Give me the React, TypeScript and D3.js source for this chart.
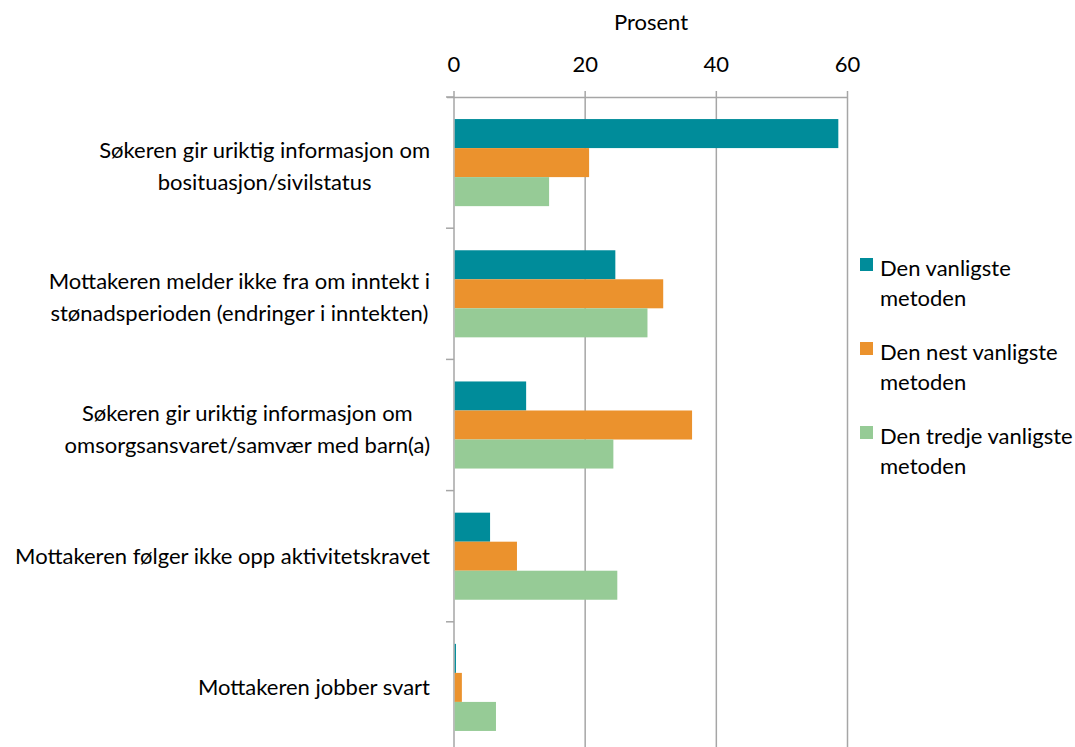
import React, { useEffect, useRef } from "react";
import * as d3 from "d3";

const categories: string[][] = [
  ["Søkeren gir uriktig informasjon om", "bosituasjon/sivilstatus"],
  ["Mottakeren melder ikke fra om inntekt i", "stønadsperioden (endringer i inntekten)"],
  ["Søkeren gir uriktig informasjon om", "omsorgsansvaret/samvær med barn(a)"],
  ["Mottakeren følger ikke opp aktivitetskravet"],
  ["Mottakeren jobber svart"],
];
const seriesNames: string[][] = [
  ["Den vanligste", "metoden"],
  ["Den nest vanligste", "metoden"],
  ["Den tredje vanligste", "metoden"],
];
const first = [58.6, 24.6, 11.0, 5.5, 0.3];
const second = [20.6, 31.9, 36.3, 9.6, 1.2];
const third = [14.5, 29.5, 24.3, 24.9, 6.4];
const ticks = [0, 20, 40, 60];
const colors = ["#008C9A", "#EB922D", "#96CB96"];

const W = 1075, H = 747;
const FONT = "Lato, 'Open Sans', sans-serif";
const FS = 22;

export default function App() {
  const ref = useRef<SVGSVGElement>(null);
  useEffect(() => {
    document.body.style.margin = "0";
    const svg = d3.select(ref.current);
    svg.selectAll("*").remove();
    const series = [first, second, third];
    const x = d3.scaleLinear().domain([0, 60]).range([454, 847.5]);
    const y = d3.scaleBand<number>().domain(d3.range(categories.length)).range([97, 753]).paddingInner(0).paddingOuter(0);
    const inner = d3.scaleBand<number>().domain([0, 1, 2]).range([0, y.bandwidth()]).paddingOuter(0.76).paddingInner(0);
    const grey = "#A6A6A6";

    svg.append("g").selectAll("line").data(ticks.slice(1)).join("line")
      .attr("x1", d => x(d)).attr("x2", d => x(d)).attr("y1", 91).attr("y2", H)
      .attr("stroke", grey).attr("stroke-width", 1.5);
    svg.append("line").attr("x1", 447).attr("x2", x(60)).attr("y1", 97.5).attr("y2", 97.5)
      .attr("stroke", grey).attr("stroke-width", 1.5);
    svg.append("line").attr("x1", x(0)).attr("x2", x(0)).attr("y1", 91).attr("y2", H)
      .attr("stroke", grey).attr("stroke-width", 1.5);
    svg.append("g").selectAll("line").data(d3.range(categories.length)).join("line")
      .attr("x1", 446).attr("x2", x(0)).attr("y1", d => y(d)!).attr("y2", d => y(d)!)
      .attr("stroke", grey).attr("stroke-width", 1.5);

    series.forEach((s, si) => {
      svg.append("g").selectAll("rect").data(s).join("rect")
        .attr("x", x(0) + 0.75)
        .attr("y", (_d, i) => y(i)! + inner(si)!)
        .attr("width", d => Math.max(0, x(d) - x(0) - 0.75))
        .attr("height", inner.bandwidth())
        .attr("fill", colors[si]);
    });

    svg.append("g").selectAll("text").data(ticks).join("text")
      .attr("x", d => x(d)).attr("y", 72).attr("text-anchor", "middle")
      .attr("font-family", FONT).attr("font-size", FS).attr("fill", "#000")
      .text(d => String(d));
    svg.append("text").attr("x", 651).attr("y", 30).attr("text-anchor", "middle")
      .attr("font-family", FONT).attr("font-size", FS).attr("fill", "#000").text("Prosent");

    const lh = 32;
    categories.forEach((lines, i) => {
      const g = svg.append("g");
      const cy = y(i)! + y.bandwidth() / 2 + (lines.length > 1 ? 4 : 0);
      const texts = lines.map((l, li) =>
        g.append("text").attr("font-family", FONT).attr("font-size", FS).attr("fill", "#000")
          .attr("y", cy + (li - (lines.length - 1) / 2) * lh + 7.5)
          .attr("text-anchor", "middle").text(l)
      );
      const maxW = d3.max(texts, t => (t.node() as SVGTextElement).getComputedTextLength()) || 0;
      texts.forEach(t => t.attr("x", 430 - maxW / 2));
    });

    seriesNames.forEach((lines, i) => {
      const top = 258 + i * 84;
      svg.append("rect").attr("x", 860).attr("y", top).attr("width", 13).attr("height", 13).attr("fill", colors[i]);
      lines.forEach((l, li) => {
        svg.append("text").attr("x", 880).attr("y", top + 18 + li * 30)
          .attr("font-family", FONT).attr("font-size", FS).attr("fill", "#000").text(l);
      });
    });
  }, []);
  return <svg ref={ref} width={W} height={H} style={{ display: "block", background: "#fff" }} />;
}
